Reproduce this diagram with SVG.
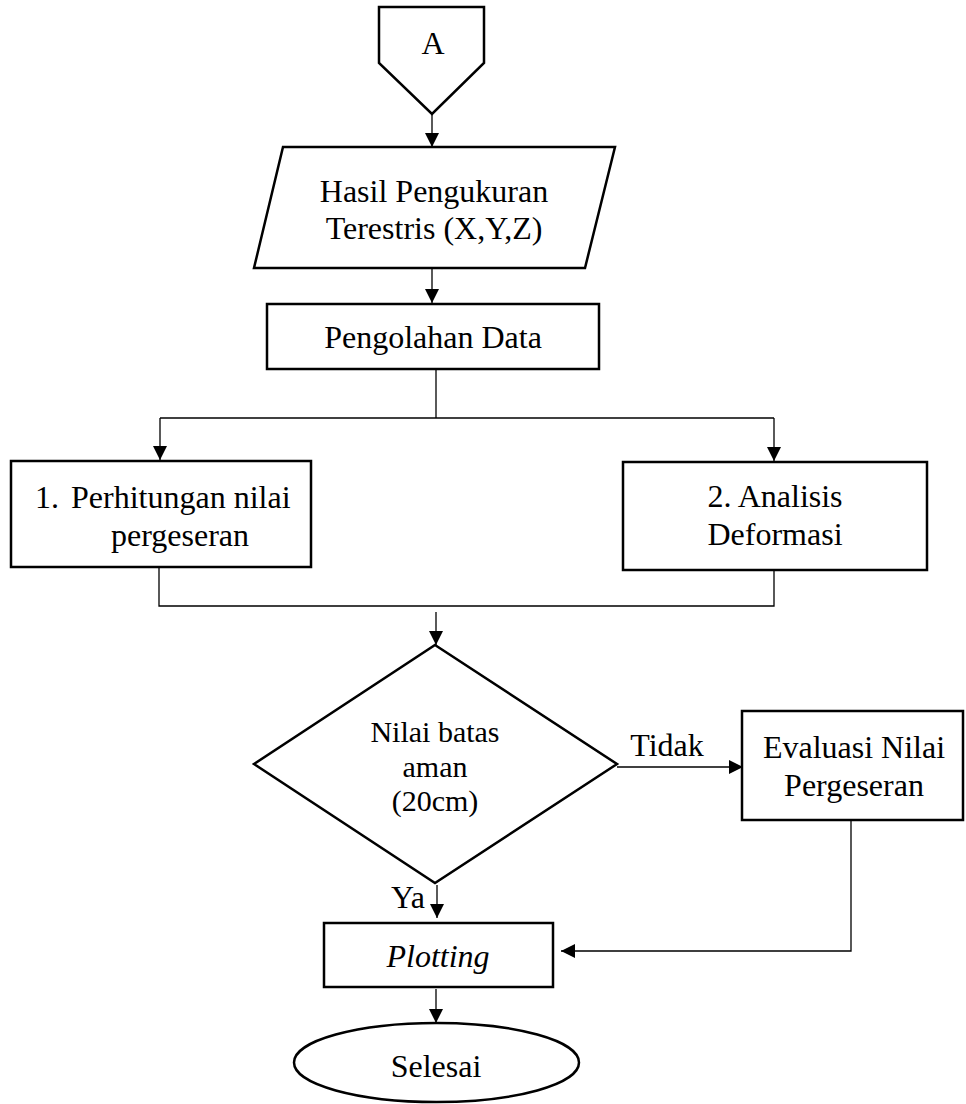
<svg xmlns="http://www.w3.org/2000/svg" width="966" height="1104" viewBox="0 0 966 1104">
<style>
.shape{fill:#fff;stroke:#000;stroke-width:2.5}
.conn{fill:none;stroke:#000;stroke-width:1.3}
.t{font-family:"Liberation Serif","Times New Roman",serif;font-size:32px;fill:#000;text-anchor:middle}
.s{font-size:30px}
.i{font-style:italic}
</style>
<defs>
<marker id="arr" markerUnits="userSpaceOnUse" markerWidth="14" markerHeight="14" refX="14" refY="7" orient="auto">
<path d="M0,0 L14,7 L0,14 z" fill="#000"/>
</marker>
</defs>
<rect width="966" height="1104" fill="#fff"/>
<g id="connectors">
<line class="conn" x1="432" y1="114" x2="432" y2="147" marker-end="url(#arr)"/>
<line class="conn" x1="432" y1="269" x2="432" y2="303" marker-end="url(#arr)"/>
<line class="conn" x1="436" y1="369" x2="436" y2="418"/>
<line class="conn" x1="160" y1="418" x2="774" y2="418"/>
<line class="conn" x1="160" y1="418" x2="160" y2="460" marker-end="url(#arr)"/>
<line class="conn" x1="774" y1="418" x2="774" y2="461" marker-end="url(#arr)"/>
<polyline class="conn" points="159,567 159,606 774,606 774,570"/>
<line class="conn" x1="436" y1="612" x2="436" y2="645" marker-end="url(#arr)"/>
<line class="conn" x1="617" y1="767" x2="743" y2="767" marker-end="url(#arr)"/>
<text class="t" x="667" y="756">Tidak</text>
<line class="conn" x1="437" y1="885" x2="437" y2="918" marker-end="url(#arr)"/>
<text class="t" x="425" y="908" style="text-anchor:end">Ya</text>
<polyline class="conn" points="851,820 851,951 561,951" marker-end="url(#arr)"/>
<line class="conn" x1="436" y1="989" x2="436" y2="1023" marker-end="url(#arr)"/>
</g>
<g id="node-a">
<polygon class="shape" points="379,7 484,7 484,63 432,114 379,63" stroke-width="2"/>
<text class="t" x="433" y="54">A</text>
</g>
<g id="node-hasil">
<polygon class="shape" points="283,147 615,147 585,268 254,268"/>
<text class="t" x="434" y="202">Hasil Pengukuran</text>
<text class="t" x="434" y="239">Terestris (X,Y,Z)</text>
</g>
<g id="node-pengolahan">
<rect class="shape" x="267" y="304" width="332" height="65"/>
<text class="t" x="433" y="348">Pengolahan Data</text>
</g>
<g id="node-perhitungan">
<rect class="shape" x="11" y="461" width="300" height="106"/>
<text class="t" x="35" y="508" style="text-anchor:start">1.</text>
<text class="t" x="71" y="508" style="text-anchor:start">Perhitungan nilai</text>
<text class="t" x="180" y="546">pergeseran</text>
</g>
<g id="node-analisis">
<rect class="shape" x="623" y="462" width="304" height="108"/>
<text class="t" x="775" y="507">2. Analisis</text>
<text class="t" x="775" y="545">Deformasi</text>
</g>
<g id="node-decision">
<polygon class="shape" points="435,645 617,764 435,883 254,764"/>
<text class="t s" x="435" y="742">Nilai batas</text>
<text class="t s" x="435" y="777">aman</text>
<text class="t s" x="435" y="811">(20cm)</text>
</g>
<g id="node-evaluasi">
<rect class="shape" x="742" y="711" width="221" height="109"/>
<text class="t" x="854" y="758">Evaluasi Nilai</text>
<text class="t" x="854" y="796">Pergeseran</text>
</g>
<g id="node-plotting">
<rect class="shape" x="324" y="923" width="229" height="64"/>
<text class="t i" x="438" y="967">Plotting</text>
</g>
<g id="node-selesai">
<ellipse class="shape" cx="436.5" cy="1062.5" rx="142.5" ry="39.5"/>
<text class="t" x="436" y="1077">Selesai</text>
</g>
</svg>
